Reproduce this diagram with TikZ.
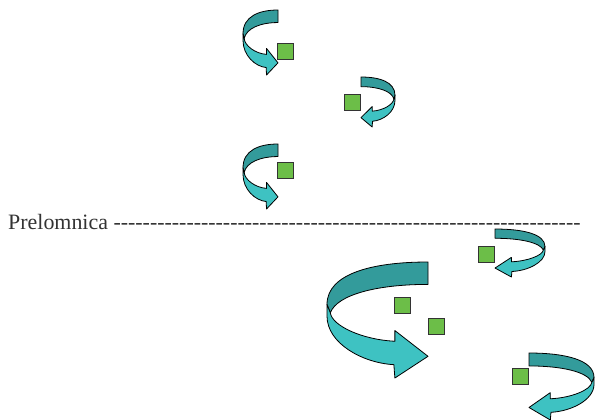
\documentclass[tikz,border=0pt]{standalone}
\usepackage{fontspec}
\setmainfont{Liberation Serif}
\usepackage{tikz}

\definecolor{bandback}{RGB}{51,155,155}
\definecolor{bandfront}{RGB}{62,194,194}
\definecolor{cubegreen}{RGB}{108,190,72}

% twisted ribbon arrow: #1 anchor (bottom corner of its box), #2 xscale, #3 height
\newcommand{\twistarrow}[3]{%
  \begin{scope}[shift={#1}, xscale=#2, yscale=-#3]
    \draw[backband] (1,1) .. controls (0.45,1) and (0,0.9) .. (0,0.634)
      -- (0.033,0.562) .. controls (0.1,0.72) and (0.5,0.807) .. (1,0.807) -- cycle;
    \draw[frontband] (0,0.634) -- (0,0.533) .. controls (0,0.3) and (0.35,0.13) .. (0.662,0.115)
      -- (0.672,0) -- (1,0.187) -- (0.672,0.409) -- (0.672,0.317)
      .. controls (0.35,0.33) and (0.05,0.45) .. (0.033,0.562) -- cycle;
  \end{scope}}

\begin{document}
\begin{tikzpicture}[
    x=1bp, y=-1bp,
    backband/.style={draw=black, line width=0.8pt, line join=round, fill=bandback},
    frontband/.style={draw=black, line width=0.8pt, line join=round, fill=bandfront},
    cube/.style={draw=black!80, line width=0.8pt, fill=cubegreen}
  ]
    \useasboundingbox (0,0) rectangle (595,419);
    \clip (0,0) rectangle (595,419);

    % arrows turning right
    \twistarrow{(243,75)}{35}{65}
    \twistarrow{(243,209)}{35}{65}
    \twistarrow{(327,378)}{101}{116}
    % arrows turning left
    \twistarrow{(395,127)}{-34}{50}
    \twistarrow{(545,277)}{-50}{48}
    \twistarrow{(594,420)}{-65}{67}

    % squares
    \draw[cube] (277,43)  rectangle ++(16.5,16.5);
    \draw[cube] (344,94)  rectangle ++(16.5,16.5);
    \draw[cube] (277,162) rectangle ++(16.5,16.5);
    \draw[cube] (478,246) rectangle ++(16.5,16.5);
    \draw[cube] (394,297) rectangle ++(16.5,16.5);
    \draw[cube] (428,318) rectangle ++(16.5,16.5);
    \draw[cube] (512,368) rectangle ++(16.5,16.5);

    \node[anchor=base west, inner sep=0pt, font=\fontsize{22}{24}\selectfont, text=black!80] (label) at (8,229)
      {Prelomnica \foreach \k in {1,...,64}{-\kern0pt}};
\end{tikzpicture}
\end{document}
